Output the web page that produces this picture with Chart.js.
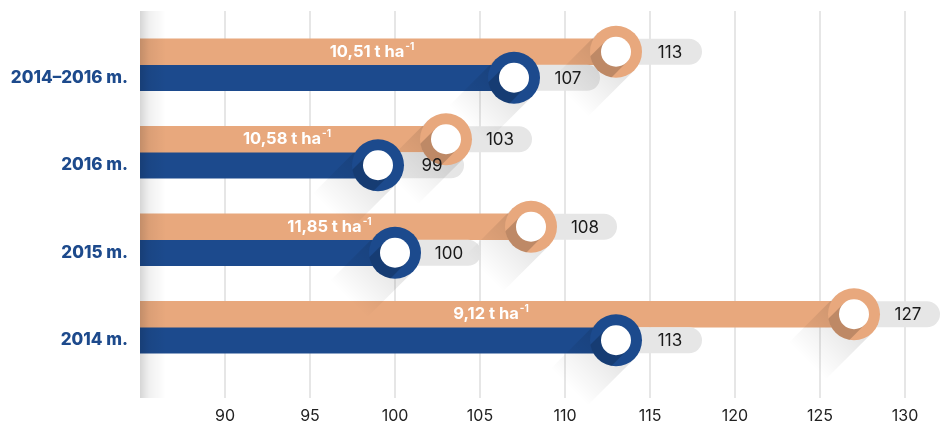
<!DOCTYPE html>
<html>
<head>
<meta charset="utf-8">
<script src="https://cdn.jsdelivr.net/npm/chart.js@4/dist/chart.umd.min.js"></script>
<style>
  html, body { margin: 0; padding: 0; background: #fff; }
</style>
</head>
<body>
<canvas id="chart" width="942" height="426"></canvas>
<script>
const categories = ["2014–2016 m.", "2016 m.", "2015 m.", "2014 m."];
const orangeValues = [113, 103, 108, 127];
const blueValues = [107, 99, 100, 113];
const yieldLabels = ["10,51", "10,58", "11,85", "9,12"];
const xTicks = [90, 95, 100, 105, 110, 115, 120, 125, 130];

const ORANGE = "#e8a87d";
const BLUE = "#1c4a8d";
const FONT = "Inter, 'Open Sans', sans-serif";

const DIAG = Math.SQRT1_2;

const band = (ctx, cx, cy, w, len, color, fade) => {
  const ex = cx - DIAG * len;
  const ey = cy + DIAG * len;
  let fill = color;
  if (fade) {
    fill = ctx.createLinearGradient(cx, cy, ex, ey);
    fill.addColorStop(0, color);
    fill.addColorStop(1, "rgba(0,0,0,0)");
  }
  ctx.fillStyle = fill;
  ctx.beginPath();
  ctx.moveTo(cx + DIAG * w, cy + DIAG * w);
  ctx.lineTo(cx - DIAG * w, cy - DIAG * w);
  ctx.lineTo(ex - DIAG * w, ey - DIAG * w);
  ctx.lineTo(ex + DIAG * w, ey + DIAG * w);
  ctx.closePath();
  ctx.fill();
};

const drawMarker = (ctx, cx, cy, color) => {
  const R = 26, r = 15;
  band(ctx, cx, cy, R, 66, "rgba(0,0,0,0.12)", true);
  ctx.fillStyle = color;
  ctx.beginPath();
  ctx.arc(cx, cy, R, 0, Math.PI * 2);
  ctx.fill();
  ctx.save();
  ctx.beginPath();
  ctx.arc(cx, cy, R, 0, Math.PI * 2);
  ctx.clip();
  band(ctx, cx, cy, r, R + 4, "rgba(0,0,0,0.18)", false);
  ctx.restore();
  ctx.fillStyle = "#fff";
  ctx.beginPath();
  ctx.arc(cx, cy, r, 0, Math.PI * 2);
  ctx.fill();
};

const decorPlugin = {
  id: "decor",
  beforeDatasetsDraw(chart) {
    const { ctx } = chart;
    const x = chart.scales.x;
    ctx.save();
    ctx.strokeStyle = "#e6e6e6";
    ctx.lineWidth = 2;
    xTicks.forEach((v) => {
      const px = Math.round(x.getPixelForValue(v));
      ctx.beginPath();
      ctx.moveTo(px, 11);
      ctx.lineTo(px, 398);
      ctx.stroke();
    });
    ctx.restore();
  },
  afterDatasetsDraw(chart) {
    const { ctx } = chart;
    const metas = [chart.getDatasetMeta(0), chart.getDatasetMeta(1)];
    const values = [orangeValues, blueValues];
    const left = chart.chartArea.left;
    ctx.save();

    // yield labels on orange bars
    metas[0].data.forEach((bar, i) => {
      const main = yieldLabels[i] + " t ha";
      ctx.font = "700 16.5px " + FONT;
      const w1 = ctx.measureText(main).width;
      ctx.font = "700 10px " + FONT;
      const w2 = ctx.measureText("-1").width + 1;
      const mid = (left + bar.x) / 2 - 6;
      const start = mid - (w1 + w2) / 2;
      ctx.fillStyle = "#ffffff";
      ctx.textBaseline = "middle";
      ctx.textAlign = "left";
      ctx.font = "700 16.5px " + FONT;
      ctx.fillText(main, start, bar.y);
      ctx.font = "700 10px " + FONT;
      ctx.fillText("-1", start + w1 + 1, bar.y - 5);
    });

    // value pills
    metas.forEach((meta) => {
      meta.data.forEach((bar) => {
        ctx.fillStyle = "#e6e6e6";
        ctx.beginPath();
        ctx.roundRect(bar.x, bar.y - 13, 86, 26, 13);
        ctx.fill();
      });
    });

    // end markers with long shadows
    metas.forEach((meta, d) => {
      meta.data.forEach((bar) => {
        drawMarker(ctx, bar.x, bar.y, d === 0 ? ORANGE : BLUE);
      });
    });

    // value text
    ctx.fillStyle = "#1a1a1a";
    ctx.font = "400 17px " + FONT;
    ctx.textAlign = "center";
    ctx.textBaseline = "middle";
    metas.forEach((meta, d) => {
      meta.data.forEach((bar, i) => {
        ctx.fillText(String(values[d][i]), bar.x + 54, bar.y + 1);
      });
    });

    // soft shadow on the left edge
    const g = ctx.createLinearGradient(left, 0, left + 26, 0);
    g.addColorStop(0, "rgba(0,0,0,0.16)");
    g.addColorStop(0.35, "rgba(0,0,0,0.06)");
    g.addColorStop(1, "rgba(0,0,0,0)");
    ctx.fillStyle = g;
    ctx.fillRect(left, 11, 26, 387);
    ctx.restore();
  },
};

new Chart(document.getElementById("chart"), {
  type: "bar",
  data: {
    labels: categories,
    datasets: [
      { label: "A", data: orangeValues, backgroundColor: ORANGE, barThickness: 26, borderWidth: 0 },
      { label: "B", data: blueValues, backgroundColor: BLUE, barThickness: 26, borderWidth: 0 },
    ],
  },
  options: {
    indexAxis: "y",
    responsive: false,
    animation: false,
    devicePixelRatio: 1,
    layout: { padding: { top: 21, right: 3, left: 0, bottom: 0 } },
    plugins: { legend: { display: false }, tooltip: { enabled: false } },
    scales: {
      x: {
        type: "linear",
        min: 85,
        max: 132,
        grid: { display: false, drawTicks: false },
        border: { display: false },
        ticks: { color: "#222", font: { family: FONT, size: 16 }, padding: 36 },
        afterBuildTicks: (s) => { s.ticks = xTicks.map((v) => ({ value: v })); },
        afterFit: (s) => { s.height = 55; s.paddingLeft = 0; s.paddingRight = 0; },
      },
      y: {
        grid: { display: false, drawTicks: false },
        border: { display: false },
        ticks: {
          color: "#1d4a8c",
          font: { family: FONT, size: 17, weight: "800" },
          padding: 12,
          labelOffset: 13,
        },
        afterFit: (s) => { s.width = 140; s.paddingTop = 0; s.paddingBottom = 0; },
      },
    },
  },
  plugins: [decorPlugin],
});
</script>
</body>
</html>
